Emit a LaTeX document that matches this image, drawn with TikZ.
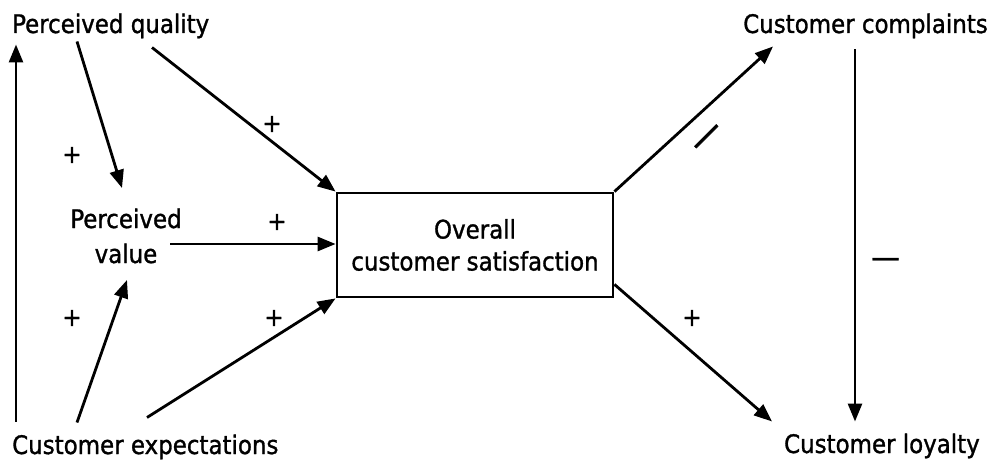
\documentclass[tikz,border=0pt]{standalone}
\usepackage{fontspec}
\setmainfont[FakeBold=1.2]{DejaVu Sans Condensed}
\usetikzlibrary{arrows.meta,calc}

\begin{document}
\begin{tikzpicture}[x=1pt,y=-1pt,
  label/.style={inner sep=0pt,text height=19pt,text depth=6pt,
                font=\fontsize{25.5}{30}\selectfont},
  sign/.style={inner sep=0pt,font=\fontsize{25.5}{30}\selectfont},
  arr/.style={line width=2.8pt,-{Triangle[length=18pt,width=14pt]}},
  satbox/.style={draw,line width=2.8pt,minimum width=276pt,minimum height=104pt,
                 inner sep=0pt,align=center,font=\fontsize{25.5}{32}\selectfont}]
  \useasboundingbox (0,0) rectangle (999,460);

  % concepts
  \node[label,anchor=west] (pq) at (12,26.5) {Perceived quality};
  \node[label,anchor=west] (ce) at (12,447.5) {Customer expectations};
  \node[label,anchor=east] (cc) at (988,26.5) {Customer complaints};
  \node[label,anchor=east] (cl) at (980,446.5) {Customer loyalty};
  \node[inner sep=0pt,align=center,font=\fontsize{25.5}{35}\selectfont]
       (pv) at (126,236) {Perceived\\value};
  \node[satbox] (cs) at (475,245) {Overall\\customer satisfaction};

  % left-hand links
  \draw[arr] ($(ce.west)+(4,-26)$) -- ($(pq.west)+(4,18)$);
  \draw[arr] ($(pq.west)+(65,15)$) -- ($(pv.center)+(-4,-48)$);
  \draw[arr] ($(ce.west)+(65,-25)$) -- ($(pv.center)+(1,44)$);
  \draw[arr] ($(pq.west)+(140,21)$) -- (cs.north west);
  \draw[arr] ($(pv.center)+(44,8)$) coordinate (pvr) -- (pvr -| cs.west);
  \draw[arr] ($(ce.west)+(135,-30)$) -- (cs.south west);

  % right-hand links
  \draw[arr] (cs.north east) -- ($(cc.east)+(-215,20)$);
  \draw[arr] ($(cs.south east)+(0,-14)$) -- ($(cl.east)+(-208,-25)$);
  \draw[arr] ($(cc.east)+(-133,23)$) -- ($(cl.east)+(-125,-25)$);

  % signs
  \node[sign] (s1) at (72,155) {+};
  \node[sign] (s2) at (272,124) {+};
  \node[sign] (s3) at (277,222) {+};
  \node[sign] (s4) at (72,318) {+};
  \node[sign] (s5) at (274,318) {+};
  \node[sign] (s6) at (692,318) {+};
  \node[inner sep=0pt,rotate=45,font=\fontsize{38}{38}\selectfont] (s7) at (709.5,139.5) {—};
  \node[inner sep=0pt,font=\fontsize{32}{32}\selectfont] (s8) at (885.5,263) {—};
\end{tikzpicture}
\end{document}
